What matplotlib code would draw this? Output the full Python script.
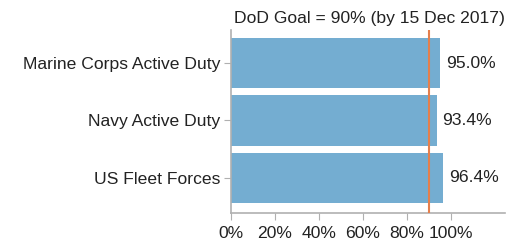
import matplotlib
matplotlib.use("Agg")
import matplotlib.pyplot as plt

categories = ["Marine Corps Active Duty", "Navy Active Duty", "US Fleet Forces"]
values = [95.0, 93.4, 96.4]
goal = 90
goal_label = "DoD Goal = 90% (by 15 Dec 2017)"
xticks = [0, 20, 40, 60, 80, 100]

plt.rcParams['font.family'] = ['Liberation Sans', 'DejaVu Sans']
FS = 12.6

fig = plt.figure(figsize=(5.19, 2.48), dpi=100)
W, H = 519, 248
ax = fig.add_axes([231 / W, 1 - 213 / H, (505 - 231) / W, (213 - 30) / H])

y = list(range(len(categories)))
ax.barh(y, values, height=0.88, color="#74add1", zorder=2)
for yi, v in zip(y, values):
    ax.annotate(f"{v:.1f}%", (v, yi), xytext=(4, 0), textcoords="offset points",
                va="center", ha="left", fontsize=FS, color="#222222")

ax.axvline(goal, color="#e57f4c", lw=1.5, zorder=3)
ax.text(1.0, 1.02, goal_label, transform=ax.transAxes, ha="right", va="bottom",
        fontsize=FS, color="#222222")

ax.set_xlim(0, 124.5)
ax.set_ylim(2.61, -0.575)
ax.set_yticks(y)
ax.set_yticklabels(categories)
ax.set_xticks(xticks)
ax.set_xticklabels([f"{t}%" for t in xticks])

for s in ["top", "right"]:
    ax.spines[s].set_visible(False)
for s in ["left", "bottom"]:
    ax.spines[s].set_color("#b0b0b0")
    ax.spines[s].set_linewidth(1.2)
ax.tick_params(axis="both", colors="#b0b0b0", labelcolor="#222222", labelsize=FS, length=5)
ax.tick_params(axis="x", pad=4)
ax.tick_params(axis="y", pad=3)

fig.savefig("out.png", dpi=100)
